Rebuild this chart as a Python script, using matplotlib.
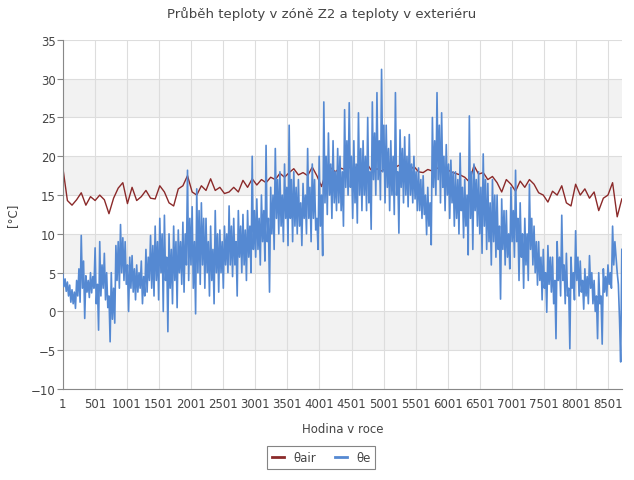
import numpy as np
import matplotlib.pyplot as plt

# hourly temperature over one year
# theta_air: one value every 72 h, theta_e: one value every 18 h
t_air = [18.6, 14.3, 13.7, 14.4, 15.3, 13.7, 14.8, 14.3, 15.0, 14.4,
         12.6, 14.6, 15.9, 16.6, 13.9, 16.0, 14.3, 14.8, 15.6, 14.6,
         14.5, 16.2, 15.4, 14.0, 13.6, 15.8, 16.2, 17.5, 15.4, 15.0,
         16.2, 15.6, 17.1, 15.6, 16.0, 15.2, 15.4, 16.0, 15.4, 16.9,
         16.0, 17.1, 16.3, 17.0, 16.6, 17.3, 17.0, 17.8, 17.3, 17.9,
         18.4, 17.6, 17.9, 17.5, 18.6, 17.5, 16.1, 18.0, 18.5, 18.0,
         18.5, 18.3, 18.6, 18.2, 19.0, 18.6, 18.9, 18.0, 18.4, 18.1,
         18.5, 18.9, 18.6, 18.9, 18.5, 18.1, 18.7, 18.0, 17.9, 18.3,
         18.1, 18.5, 18.2, 18.4, 18.0, 17.8, 17.6, 17.3, 16.7, 18.8,
         17.7, 17.9, 17.0, 17.4, 16.6, 15.4, 17.0, 16.4, 15.5, 16.8,
         16.0, 17.0, 16.4, 15.3, 15.0, 14.1, 15.5, 15.0, 16.2, 14.0,
         13.6, 16.4, 15.0, 15.8, 14.6, 15.4, 13.0, 14.6, 15.0, 16.6,
         12.2, 14.5]

t_e = [4.8, 3.2, 4.2, 2.6, 3.8, 2.0, 3.4, 1.2, 2.8, 1.0, 2.5, 0.4, 4.0, 2.0, 5.5, 1.2, 9.8, 3.0, 6.5, -0.9,
       4.6, 2.5, 4.0, 1.8, 5.0, 2.4, 4.5, 3.0, 8.2, 1.0, 3.5, -2.4, 9.0, 2.0, 6.0, 3.0, 7.5, 1.5, 5.0, 0.5,
       2.0, -3.9, 5.0, -1.0, 3.0, -1.5, 8.5, 4.0, 9.0, 3.0, 11.2, 5.0, 9.5, 4.0, 9.0, 3.5, 6.0, 0.0, 7.0, 3.0,
       7.2, 2.5, 5.5, 1.5, 6.0, 2.5, 5.0, 3.0, 6.5, 1.0, 4.5, 2.0, 8.0, 2.5, 7.0, 4.0, 9.8, 3.0, 8.5, 2.0,
       11.0, 4.0, 9.0, 1.5, 12.0, 5.0, 10.0, 0.0, 12.4, 4.0, 7.0, -2.6, 10.0, 3.0, 8.0, 1.0, 11.0, 4.0, 9.0, 0.5,
       10.5, 5.0, 9.0, 3.5, 11.5, 2.5, 10.0, 6.0, 18.2, 4.0, 12.0, 6.0, 13.5, 3.0, 9.0, -0.3, 15.8, 5.0, 13.0, 3.5,
       14.0, 6.0, 12.0, 3.0, 12.0, 5.0, 9.0, 2.0, 11.0, 4.0, 8.0, 1.0, 13.0, 5.0, 10.0, 2.5, 10.5, 5.0, 9.0, 3.0,
       11.0, 6.0, 10.0, 5.0, 13.6, 6.0, 11.0, 4.5, 12.0, 6.0, 9.0, 2.0, 13.0, 7.0, 11.0, 5.0, 12.5, 6.0, 10.5, 4.0,
       13.0, 7.0, 11.0, 5.0, 20.0, 8.0, 13.0, 7.0, 14.5, 8.0, 12.0, 6.0, 15.0, 9.0, 13.0, 6.5, 21.4, 9.0, 12.0, 2.5,
       16.0, 10.0, 15.0, 8.0, 21.0, 12.0, 17.0, 10.0, 18.0, 11.0, 15.0, 9.0, 19.0, 12.0, 16.0, 8.5, 24.0, 12.0, 17.0, 9.0,
       18.0, 11.0, 16.0, 10.0, 17.0, 11.0, 14.0, 8.5, 16.5, 12.0, 15.0, 10.0, 21.0, 12.0, 16.0, 9.0, 19.0, 12.0, 17.0, 10.5,
       12.0, 8.0, 20.0, 11.0, 15.0, 7.2, 27.0, 14.0, 20.0, 12.5, 23.0, 15.0, 19.0, 12.0, 22.0, 14.0, 18.0, 13.0, 21.0, 14.0,
       20.0, 13.0, 18.0, 11.0, 26.0, 16.0, 22.0, 15.0, 26.9, 16.0, 20.0, 12.0, 22.0, 14.0, 19.0, 11.4, 25.6, 15.0, 21.0, 13.0,
       22.0, 15.0, 20.0, 13.0, 25.0, 14.0, 18.0, 10.6, 27.0, 17.0, 23.0, 15.0, 28.2, 17.0, 22.0, 14.4, 31.2, 18.0, 24.0, 14.0,
       24.0, 16.0, 21.0, 13.0, 22.0, 15.0, 20.0, 12.5, 28.2, 15.0, 18.0, 10.1, 23.4, 16.0, 21.0, 14.0, 22.5, 15.0, 20.0, 13.5,
       22.8, 15.0, 19.0, 14.0, 20.0, 14.5, 18.0, 13.0, 18.5, 13.0, 17.0, 12.0, 17.5, 12.5, 15.0, 9.9, 16.0, 11.0, 14.0, 8.6,
       25.0, 16.0, 22.0, 15.0, 28.2, 17.0, 24.0, 14.0, 25.6, 16.0, 20.0, 13.0, 21.5, 15.0, 19.0, 12.0, 19.5, 14.0, 18.0, 11.0,
       18.0, 12.0, 17.0, 10.0, 20.4, 13.0, 16.0, 9.5, 17.0, 11.0, 15.0, 7.3, 25.2, 12.0, 18.0, 8.0, 19.0, 13.0, 17.0, 11.0,
       18.0, 10.0, 16.0, 7.5, 20.3, 11.0, 17.0, 8.0, 16.5, 9.0, 14.0, 6.0, 17.0, 9.0, 15.0, 7.0, 15.0, 8.0, 11.0, 1.6,
       14.5, 8.0, 13.0, 6.0, 13.0, 7.0, 10.0, 5.5, 16.0, 9.0, 13.0, 7.0, 18.2, 9.0, 12.0, 4.0, 14.0, 7.0, 10.0, 3.0,
       12.0, 6.0, 10.0, 4.0, 16.4, 8.0, 12.0, 6.0, 11.0, 5.0, 9.0, 3.4, 9.0, 4.0, 7.0, 1.5, 8.0, 3.0, 5.0, -0.1,
       8.5, 3.5, 7.0, 2.5, 7.0, 1.0, 4.0, -3.5, 9.0, 4.0, 7.0, 2.0, 12.4, 4.0, 6.0, 1.0, 7.5, 2.0, 3.0, -4.8,
       7.0, 3.0, 5.0, 1.5, 10.4, 4.0, 7.0, 2.0, 6.5, 2.5, 4.0, 0.3, 5.5, 2.0, 4.5, 1.0, 7.2, 3.0, 5.0, 1.0,
       4.0, 0.0, 2.0, -3.5, 5.0, 1.0, 2.0, -4.2, 5.5, 2.5, 4.5, 2.0, 6.0, 3.5, 5.0, 3.0, 11.0, 6.0, 9.0, 7.0,
       5.0, 3.5, -1.0, -6.5, 8.0]

h_air = 1 + 72 * np.arange(len(t_air))
h_e = 1 + 18 * np.arange(len(t_e))

x_ticks = list(range(1, 8502, 500))
y_ticks = list(range(-10, 36, 5))

red = '#8b2a2a'
blue = '#5589d2'
txt = '#444444'

fig = plt.figure(figsize=(6.34, 4.81), dpi=100)
ax = fig.add_axes([0.099, 0.189, 0.882, 0.726])

# alternating grey bands
for lo in range(-5, 35, 10):
    ax.axhspan(lo, lo + 5, color='#f2f2f2', zorder=0, lw=0)

ax.plot(h_air, t_air, color=red, lw=1.0, label='θair', zorder=2)
ax.plot(h_e, t_e, color=blue, lw=1.2, label='θe', zorder=3)

ax.set_xlim(1, 8715)
ax.set_ylim(-10, 35)
ax.set_xticks(x_ticks)
ax.set_yticks(y_ticks)
ax.grid(True, color='#dddddd', lw=0.8, zorder=1)
ax.set_axisbelow(True)

for s in ['top', 'right']:
    ax.spines[s].set_visible(False)
for s in ['left', 'bottom']:
    ax.spines[s].set_color('#888888')

ax.tick_params(axis='y', length=4, color='#888888', labelsize=8.5, labelcolor=txt, pad=1)
ax.tick_params(axis='x', length=0, labelsize=8.5, labelcolor=txt, pad=6)

fig.suptitle('Průběh teploty v zóně Z2 a teploty v exteriéru', x=0.507, y=0.985,
             fontsize=9.5, color=txt)
ax.set_xlabel('Hodina v roce', fontsize=8.5, color=txt, labelpad=8)
ax.set_ylabel('[°C]', fontsize=8.5, color=txt, labelpad=9)

h, l = ax.get_legend_handles_labels()
leg = fig.legend(h, l, loc='upper center', bbox_to_anchor=(0.507, 0.082), ncol=2, frameon=True,
                 fancybox=False, fontsize=8.5, handlelength=1.0, columnspacing=1.6,
                 handletextpad=0.8, borderpad=0.4)
leg.get_frame().set_edgecolor('#666666')
leg.get_frame().set_linewidth(0.8)
for t in leg.get_texts():
    t.set_color(txt)
for ln in leg.get_lines():
    ln.set_linewidth(2)

fig.savefig('out.png', dpi=100)
